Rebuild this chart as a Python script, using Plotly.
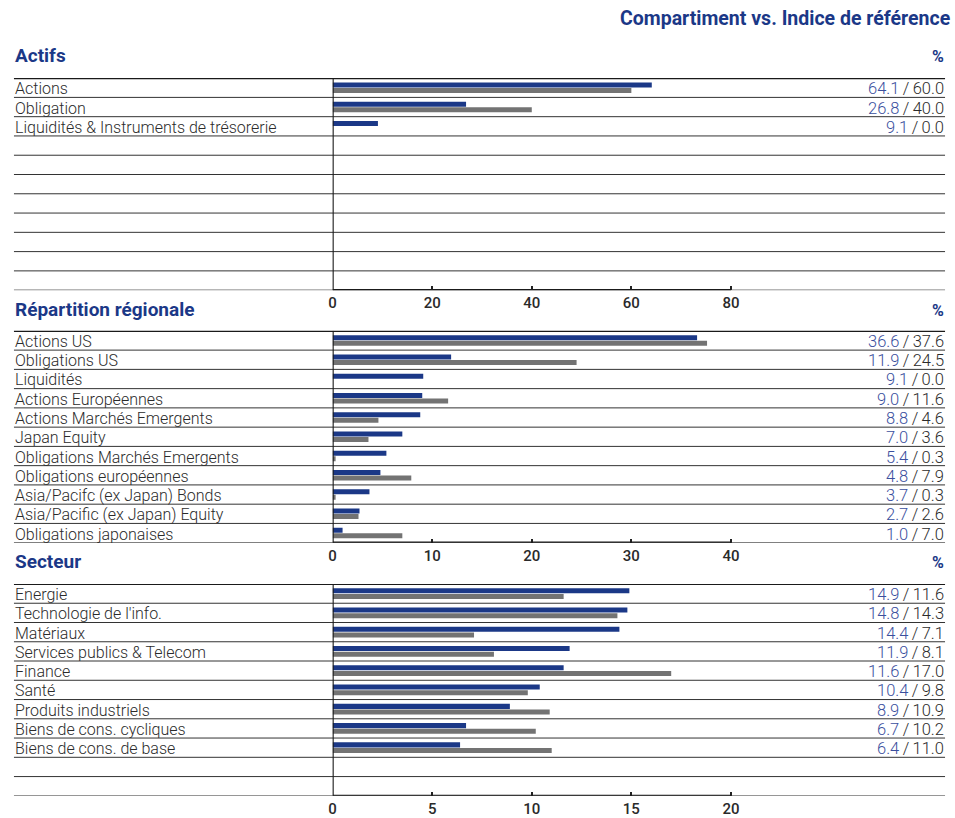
import plotly.graph_objects as go

# ---- data -------------------------------------------------------------
actifs_labels = ["Actions", "Obligation", "Liquidités & Instruments de trésorerie"]
actifs_fund = [64.1, 26.8, 9.1]
actifs_index = [60.0, 40.0, 0.0]

region_labels = [
    "Actions US", "Obligations US", "Liquidités", "Actions Européennes",
    "Actions Marchés Emergents", "Japan Equity", "Obligations Marchés Emergents",
    "Obligations européennes", "Asia/Pacifc (ex Japan) Bonds",
    "Asia/Pacific (ex Japan) Equity", "Obligations japonaises",
]
region_fund = [36.6, 11.9, 9.1, 9.0, 8.8, 7.0, 5.4, 4.8, 3.7, 2.7, 1.0]
region_index = [37.6, 24.5, 0.0, 11.6, 4.6, 3.6, 0.3, 7.9, 0.3, 2.6, 7.0]

secteur_labels = [
    "Energie", "Technologie de l'info.", "Matériaux", "Services publics & Telecom",
    "Finance", "Santé", "Produits industriels", "Biens de cons. cycliques",
    "Biens de cons. de base",
]
secteur_fund = [14.9, 14.8, 14.4, 11.9, 11.6, 10.4, 8.9, 6.7, 6.4]
secteur_index = [11.6, 14.3, 7.1, 8.1, 17.0, 9.8, 10.9, 10.2, 11.0]

actifs_ticks = [0, 20, 40, 60, 80]
region_ticks = [0, 10, 20, 30, 40]
secteur_ticks = [0, 5, 10, 15, 20]

header = "Compartiment vs. Indice de référence"
titles = ["Actifs", "Répartition régionale", "Secteur"]

# ---- styling ----------------------------------------------------------
W, H = 955, 818
N_ROWS = 11
BLUE = "#1b3887"
BLUE_TXT = "#3a4f9e"
GREY = "#737373"
TEXT = "#2b2b2b"
LINE = "#333333"
FONT = "Roboto"
SEP = "\u2009/\u2009"


def px_x(p):
    return p / W


def px_y(p):
    return 1 - p / H


X0, X1 = 330, 945          # plot area (pixels)
LEFT = 10                  # label column start
panels = [
    dict(title=titles[0], labels=actifs_labels, fund=actifs_fund, idx=actifs_index,
         ticks=actifs_ticks, top=78.7, bottom=292.3, title_y=56),
    dict(title=titles[1], labels=region_labels, fund=region_fund, idx=region_index,
         ticks=region_ticks, top=333.3, bottom=546.7, title_y=311.5),
    dict(title=titles[2], labels=secteur_labels, fund=secteur_fund, idx=secteur_index,
         ticks=secteur_ticks, top=588.3, bottom=801.7, title_y=566),
]

fig = go.Figure()
shapes, annotations = [], []
layout = {}

for i, p in enumerate(panels, start=1):
    xa = "x" if i == 1 else f"x{i}"
    ya = "y" if i == 1 else f"y{i}"
    xkey = "xaxis" if i == 1 else f"xaxis{i}"
    ykey = "yaxis" if i == 1 else f"yaxis{i}"

    n = len(p["labels"])
    rows = list(range(n))
    tick_max = p["ticks"][-1]
    # scale: last tick sits 400 px right of zero
    xmax = tick_max * (X1 - X0) / 400.0

    fig.add_trace(go.Bar(x=p["fund"], y=rows, orientation="h", marker_color=BLUE,
                         marker_line_width=0, xaxis=xa, yaxis=ya, showlegend=False,
                         hoverinfo="x+y"))
    fig.add_trace(go.Bar(x=p["idx"], y=rows, orientation="h", marker_color=GREY,
                         marker_line_width=0, xaxis=xa, yaxis=ya, showlegend=False,
                         hoverinfo="x+y"))

    layout[xkey] = dict(
        domain=[px_x(X0), px_x(X1)], range=[0, xmax], anchor=ya,
        tickvals=p["ticks"], ticks="inside", ticklen=4, tickwidth=1.5,
        tickcolor="#222222", showgrid=False, zeroline=False, showline=False,
        ticklabelstandoff=2,
        tickfont=dict(family=FONT, size=15, color="#2a2a2a", weight=500),
        fixedrange=True,
    )
    layout[ykey] = dict(
        domain=[px_y(p["bottom"]), px_y(p["top"])], range=[N_ROWS - 0.5, -0.5],
        anchor=xa, showticklabels=False, showgrid=False, zeroline=False,
        showline=False, ticks="", fixedrange=True,
    )

    # row separators across the label column and plot area
    for k in range(1, N_ROWS + 1):
        shapes.append(dict(type="line", xref="paper", yref=ya,
                           x0=px_x(LEFT), x1=px_x(X1), y0=k - 0.5, y1=k - 0.5,
                           line=dict(color=LINE, width=1)))
    shapes.append(dict(type="line", xref="paper", yref=ya,
                       x0=px_x(LEFT), x1=px_x(X1), y0=-0.5, y1=-0.5,
                       line=dict(color="#1a1a1a", width=2.2)))
    # vertical zero line and bottom axis line up to the last tick
    shapes.append(dict(type="line", xref=xa, yref=ya, x0=0, x1=0,
                       y0=-0.5, y1=N_ROWS - 0.5, line=dict(color="#1a1a1a", width=2.2)))
    shapes.append(dict(type="line", xref=xa, yref=ya, x0=0, x1=tick_max,
                       y0=N_ROWS - 0.5, y1=N_ROWS - 0.5,
                       line=dict(color="#1a1a1a", width=2.2)))

    # section title and unit
    annotations.append(dict(text=f"<b>{p['title']}</b>", xref="paper", yref="paper",
                            x=px_x(LEFT - 1), y=px_y(p["title_y"]), xanchor="left",
                            yanchor="middle", showarrow=False,
                            font=dict(family=FONT, size=19, color=BLUE)))
    annotations.append(dict(text="<b>%</b>", xref="paper", yref="paper",
                            x=px_x(X1 + 1), y=px_y(p["title_y"] + 1), xanchor="right",
                            yanchor="middle", showarrow=False,
                            font=dict(family=FONT, size=16, color=BLUE)))

    for r, (lab, f, b) in enumerate(zip(p["labels"], p["fund"], p["idx"])):
        annotations.append(dict(text=lab, xref="paper", yref=ya, x=px_x(LEFT - 1), y=r,
                                xanchor="left", yanchor="middle", showarrow=False,
                                yshift=-1,
                                font=dict(family=FONT, size=16, color=TEXT, weight=300)))
        annotations.append(dict(
            text=f"<span style='color:{BLUE_TXT}'>{f:.1f}</span>{SEP}{b:.1f}",
            xref="paper", yref=ya, x=px_x(X1 + 1), y=r, xanchor="right",
            yanchor="middle", showarrow=False, yshift=-1,
            font=dict(family=FONT, size=16.5, color=TEXT, weight=300)))

annotations.append(dict(text=f"<b>{header}</b>", xref="paper", yref="paper",
                        x=px_x(953), y=px_y(19), xanchor="right", yanchor="middle",
                        showarrow=False, font=dict(family=FONT, size=19.5, color=BLUE)))

fig.update_layout(
    width=W, height=H, margin=dict(l=0, r=0, t=0, b=0, pad=0),
    paper_bgcolor="white", plot_bgcolor="white",
    barmode="group", bargap=0.42, bargroupgap=0.1,
    shapes=shapes, annotations=annotations, showlegend=False,
    **layout,
)

fig.write_html("out.html")
